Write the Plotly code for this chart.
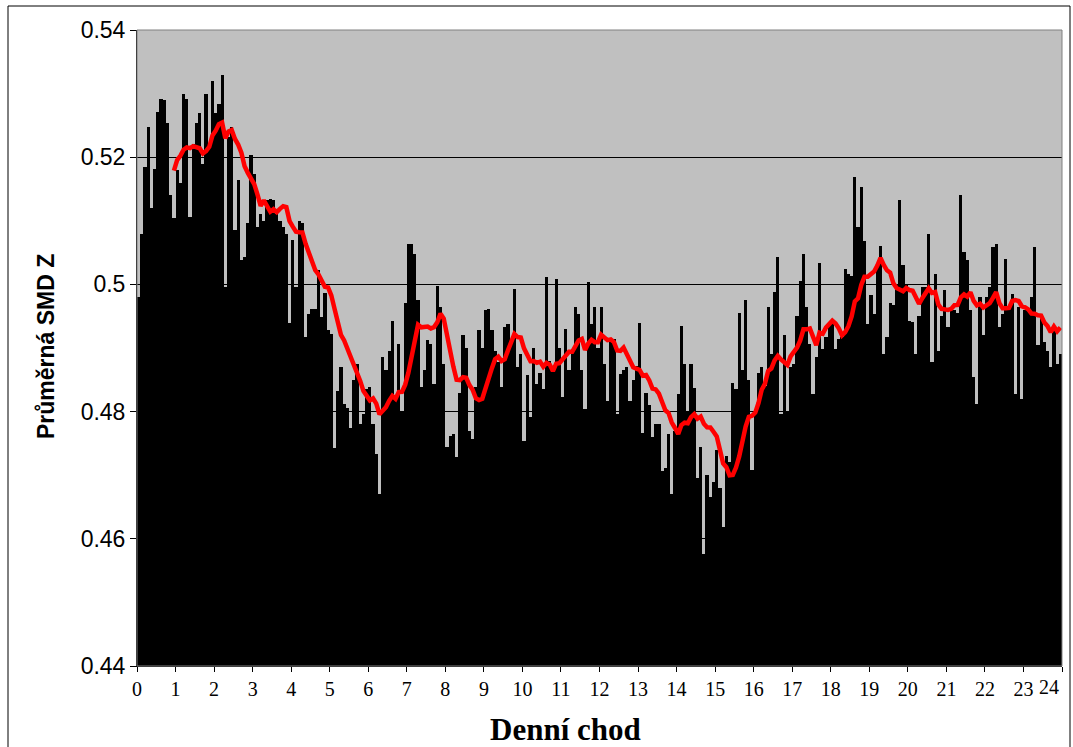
import numpy as np
import pandas as pd
import plotly.graph_objects as go

# Average SMD Z in 5-minute steps over the day (12 values per hour)
smd_00_06 = [
    0.498, 0.508, 0.5185, 0.5248, 0.512, 0.5182, 0.5271, 0.5292, 0.529, 0.5253, 0.514, 0.5105,
    0.518, 0.516, 0.530, 0.5292, 0.5106, 0.522, 0.5253, 0.527, 0.519, 0.530, 0.522, 0.532,
    0.527, 0.5284, 0.5329, 0.4996, 0.5232, 0.5248, 0.5085, 0.5164, 0.5038, 0.5043, 0.5096, 0.5203,
    0.5174, 0.509, 0.5111, 0.510, 0.5132, 0.5135, 0.5132, 0.511, 0.510, 0.509, 0.508, 0.494,
    0.507, 0.4996, 0.510, 0.5096, 0.4917, 0.4954, 0.4962, 0.4962, 0.5022, 0.4949, 0.4986, 0.4928,
    0.4922, 0.4743, 0.4833, 0.487, 0.4812, 0.4806, 0.4775, 0.4849, 0.4875, 0.478, 0.4796, 0.4835,
]
smd_06_12 = [
    0.4838, 0.478, 0.4733, 0.467, 0.4886, 0.4865, 0.4896, 0.4943, 0.482, 0.4907, 0.480, 0.497,
    0.5064, 0.5064, 0.5048, 0.4975, 0.4838, 0.4865, 0.4912, 0.4907, 0.4844, 0.4998, 0.4964, 0.4875,
    0.4744, 0.4762, 0.4765, 0.4728, 0.483, 0.492, 0.490, 0.477, 0.4757, 0.4838, 0.4928, 0.490,
    0.4959, 0.4962, 0.4928, 0.4896, 0.4878, 0.4838, 0.4933, 0.4938, 0.4912, 0.4993, 0.487, 0.4891,
    0.4754, 0.4857, 0.4791, 0.490, 0.4844, 0.486, 0.4836, 0.5012, 0.488, 0.487, 0.5009, 0.490,
    0.4823, 0.493, 0.4865, 0.4899, 0.4964, 0.4954, 0.4865, 0.4804, 0.5004, 0.4938, 0.4964, 0.490,
]
smd_12_18 = [
    0.4964, 0.4875, 0.4817, 0.4912, 0.4914, 0.4796, 0.4859, 0.4865, 0.487, 0.4817, 0.4849, 0.4872,
    0.494, 0.4767, 0.483, 0.481, 0.476, 0.478, 0.478, 0.4707, 0.4712, 0.4765, 0.467, 0.477,
    0.4827, 0.4935, 0.4875, 0.480, 0.4875, 0.4837, 0.4695, 0.4745, 0.4576, 0.470, 0.4665, 0.469,
    0.474, 0.468, 0.4618, 0.473, 0.472, 0.4845, 0.4835, 0.4955, 0.4865, 0.4975, 0.485, 0.4708,
    0.480, 0.486, 0.487, 0.484, 0.4964, 0.489, 0.4988, 0.5043, 0.4796, 0.492, 0.4801, 0.487,
    0.4875, 0.4951, 0.5006, 0.5048, 0.4964, 0.4907, 0.4828, 0.4886, 0.5033, 0.4899, 0.4917, 0.4938,
]
smd_18_24 = [
    0.4938, 0.4899, 0.4914, 0.4917, 0.5025, 0.5017, 0.5014, 0.5169, 0.509, 0.5153, 0.5069, 0.4938,
    0.4983, 0.4954, 0.5027, 0.5061, 0.4891, 0.4917, 0.497, 0.4967, 0.5001, 0.5132, 0.503, 0.5001,
    0.4943, 0.4941, 0.4891, 0.495, 0.4996, 0.4996, 0.508, 0.4878, 0.5017, 0.4896, 0.495, 0.4991,
    0.4933, 0.496, 0.496, 0.4955, 0.514, 0.5051, 0.5038, 0.496, 0.4854, 0.4812, 0.498, 0.492,
    0.498, 0.4996, 0.5059, 0.5064, 0.4933, 0.4954, 0.504, 0.4964, 0.4985, 0.4828, 0.4964, 0.482,
    0.4959, 0.4959, 0.498, 0.5059, 0.4905, 0.4949, 0.491, 0.4895, 0.487, 0.4935, 0.4875, 0.489,
]

hour_ticks = list(range(0, 25))
y_ticks = [0.44, 0.46, 0.48, 0.50, 0.52, 0.54]
y_tick_labels = ["0.44", "0.46", "0.48", "0.5", "0.52", "0.54"]
ma_period = 12  # one-hour moving average

smd = np.array(smd_00_06 + smd_06_12 + smd_12_18 + smd_18_24)
step = 24.0 / len(smd)
hours = (np.arange(len(smd)) + 0.5) * step
moving_avg = pd.Series(smd).rolling(ma_period).mean()

fig = go.Figure()
fig.add_trace(go.Bar(
    x=hours, y=smd, width=step,
    marker=dict(color="#000000", line=dict(width=0)),
    hoverinfo="skip", showlegend=False,
))
fig.add_trace(go.Scatter(
    x=hours, y=moving_avg, mode="lines",
    line=dict(color="#ff0000", width=4.5),
    hoverinfo="skip", showlegend=False,
))

W, H = 1073, 747
L, R, T, B = 137, 11, 30, 81
pw, ph = W - L - R, H - T - B

def px_x(px):
    return (px - L) / pw

def px_y(py):
    return (H - B - py) / ph

# the last hour label sits tucked inside the right edge
x_tick_text = [str(h) for h in hour_ticks[:-1]] + [""]
last_tick = str(hour_ticks[-1])

fig.update_layout(
    width=W, height=H,
    margin=dict(l=L, r=R, t=T, b=B, pad=0, autoexpand=False),
    paper_bgcolor="#ffffff",
    plot_bgcolor="#c0c0c0",
    bargap=0,
    xaxis=dict(
        range=[0, 24], tickmode="array", tickvals=hour_ticks, ticktext=x_tick_text,
        ticks="outside", ticklen=5, tickcolor="#000000", tickwidth=1,
        showline=True, linecolor="#000000", linewidth=1,
        showgrid=False, zeroline=False, automargin=False,
        tickfont=dict(family="Liberation Serif", size=20, color="#000000"),
    ),
    yaxis=dict(
        range=[0.44, 0.54], tickmode="array", tickvals=y_ticks, ticktext=y_tick_labels,
        ticks="outside", ticklen=6, tickcolor="#000000", tickwidth=1,
        showline=True, linecolor="#000000", linewidth=1,
        showgrid=True, gridcolor="#000000", gridwidth=1, zeroline=False,
        automargin=False,
        tickfont=dict(family="Liberation Sans", size=23, color="#000000"),
    ),
    annotations=[
        dict(text=last_tick, xref="paper", yref="paper",
             x=px_x(1061), y=px_y(674), xanchor="right", yanchor="top",
             showarrow=False,
             font=dict(family="Liberation Serif", size=20, color="#000000")),
        dict(text="<b>Denní chod</b>", xref="paper", yref="paper",
             x=px_x(565), y=px_y(729), xanchor="center", yanchor="middle",
             showarrow=False,
             font=dict(family="Liberation Serif", size=31, color="#000000")),
        dict(text="<b>Průměrná SMD Z</b>", xref="paper", yref="paper",
             x=px_x(46), y=px_y(347), xanchor="center", yanchor="middle",
             textangle=-90, showarrow=False,
             font=dict(family="Liberation Sans", size=23, color="#000000")),
    ],
    shapes=[
        # plot-area border (top and right edges)
        dict(type="rect", xref="paper", yref="paper", x0=0, x1=1, y0=0, y1=1,
             line=dict(color="#808080", width=1), layer="above"),
        # chart frame
        dict(type="rect", xref="paper", yref="paper",
             x0=px_x(8), x1=px_x(1070), y0=px_y(800), y1=px_y(6),
             line=dict(color="#000000", width=1), layer="above"),
    ],
)

fig.write_html("out.html", config={"displayModeBar": False})
